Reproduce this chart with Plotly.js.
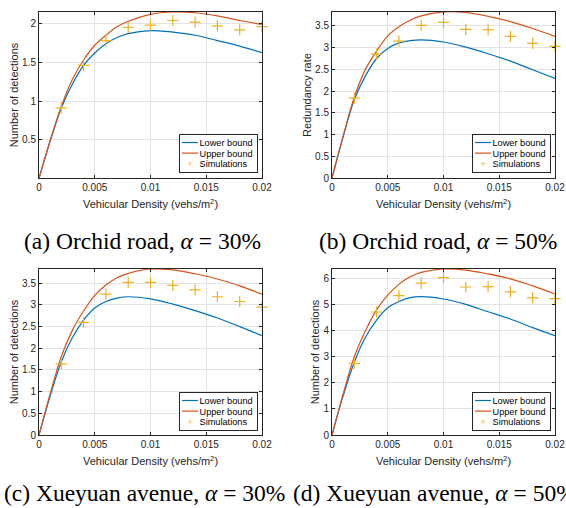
<!DOCTYPE html>
<html><head><meta charset="utf-8">
<script src="https://cdn.plot.ly/plotly-3.0.1.min.js"></script>
<style>html,body{margin:0;padding:0;background:#fff;overflow:hidden}#chart{width:566px;height:508px}</style>
</head><body><div id="chart"></div>
<script>
// ---- data ----
const densityCurve = [0, 0.001, 0.002, 0.003, 0.004, 0.005, 0.006, 0.007, 0.008, 0.010, 0.012, 0.014, 0.016, 0.018, 0.020];
const densitySim = [0.002, 0.004, 0.006, 0.008, 0.010, 0.012, 0.014, 0.016, 0.018, 0.020];

const lowerA = [0, 0.48, 0.91, 1.22, 1.46, 1.62, 1.74, 1.82, 1.87, 1.91, 1.89, 1.85, 1.78, 1.71, 1.625];
const upperA = [0, 0.49, 0.93, 1.28, 1.53, 1.72, 1.85, 1.96, 2.03, 2.12, 2.15, 2.14, 2.10, 2.04, 1.99];
const simA   = [0.91, 1.46, 1.78, 1.95, 1.98, 2.04, 2.02, 1.97, 1.92, 1.96];

const lowerB = [0, 0.95, 1.80, 2.35, 2.75, 2.98, 3.11, 3.16, 3.18, 3.13, 3.01, 2.86, 2.69, 2.49, 2.29];
const upperB = [0, 0.97, 1.86, 2.50, 2.92, 3.27, 3.48, 3.63, 3.73, 3.82, 3.81, 3.72, 3.60, 3.44, 3.26];
const simB   = [1.84, 2.85, 3.15, 3.51, 3.58, 3.42, 3.41, 3.26, 3.10, 3.03];

const lowerC = [0, 0.90, 1.69, 2.25, 2.65, 2.93, 3.08, 3.16, 3.19, 3.14, 3.02, 2.87, 2.70, 2.50, 2.29];
const upperC = [0, 0.95, 1.81, 2.42, 2.86, 3.22, 3.46, 3.63, 3.73, 3.83, 3.81, 3.72, 3.60, 3.44, 3.25];
const simC   = [1.64, 2.60, 3.25, 3.52, 3.52, 3.45, 3.35, 3.19, 3.08, 2.95];

const lowerD = [0, 1.50, 2.79, 3.75, 4.41, 4.88, 5.12, 5.27, 5.31, 5.22, 5.01, 4.73, 4.45, 4.12, 3.81];
const upperD = [0, 1.58, 3.00, 4.00, 4.80, 5.37, 5.78, 6.07, 6.24, 6.37, 6.33, 6.18, 5.99, 5.72, 5.41];
const simD   = [2.75, 4.72, 5.35, 5.83, 6.04, 5.68, 5.69, 5.49, 5.26, 5.23];

const seriesNames = ['Lower bound', 'Upper bound', 'Simulations'];
const xTickVals = [0, 0.005, 0.01, 0.015, 0.02];
const xTickText = ['0', '0.005', '0.01', '0.015', '0.02'];
const xTitle = 'Vehicular Density (vehs/m<sup>2</sup>)';
const yTitles = ['Number of detections', 'Redundancy rate', 'Number of detections', 'Number of detections'];
const captions = ['(a) Orchid road, <i>α</i> = 30%', '(b) Orchid road, <i>α</i> = 50%',
                  '(c) Xueyuan avenue, <i>α</i> = 30%', '(d) Xueyuan avenue, <i>α</i> = 50%'];

// ---- styling ----
const C_LOW = '#0072BD', C_UP = '#D95319', C_SIM = '#EDB120', AX = '#262626';
const panels = [
  {lo: lowerA, up: upperA, sim: simA, yr: [0.005, 2.15], dt: 0.5, xd: [39/566, 262/566], yd: [1-178/508, 1-12/508], lg: [258/566, 1-173/508]},
  {lo: lowerB, up: upperB, sim: simB, yr: [0, 3.82], dt: 0.5, xd: [332/566, 555/566], yd: [1-178/508, 1-12/508], lg: [551/566, 1-173/508]},
  {lo: lowerC, up: upperC, sim: simC, yr: [0, 3.83], dt: 0.5, xd: [39/566, 262/566], yd: [1-435/508, 1-269/508], lg: [258/566, 1-431/508]},
  {lo: lowerD, up: upperD, sim: simD, yr: [0, 6.37], dt: 1, xd: [332/566, 555/566], yd: [1-435/508, 1-269/508], lg: [551/566, 1-431/508]}
];

const data = [];
const layout = {
  width: 566, height: 508, margin: {l: 0, r: 0, t: 0, b: 0},
  paper_bgcolor: '#fff', plot_bgcolor: '#fff',
  font: {family: '"Liberation Sans", Arial, sans-serif', size: 10, color: AX},
  annotations: []
};
const capY = [1-241/508, 1-241/508, 1-493/508, 1-493/508];
const capX = [142/566, 437.5/566, 144.5/566, 434.5/566];

panels.forEach((p, i) => {
  const n = i + 1;
  const xa = n === 1 ? 'x' : 'x' + n, ya = n === 1 ? 'y' : 'y' + n;
  const lgName = n === 1 ? 'legend' : 'legend' + n;
  data.push({x: densityCurve, y: p.lo, xaxis: xa, yaxis: ya, mode: 'lines', name: seriesNames[0], legend: lgName,
             line: {color: C_LOW, width: 1.2, shape: 'spline', smoothing: 1}});
  data.push({x: densityCurve, y: p.up, xaxis: xa, yaxis: ya, mode: 'lines', name: seriesNames[1], legend: lgName,
             line: {color: C_UP, width: 1.2, shape: 'spline', smoothing: 1}});
  data.push({x: densitySim, y: p.sim, xaxis: xa, yaxis: ya, mode: 'markers', name: seriesNames[2], legend: lgName,
             cliponaxis: false,
             marker: {symbol: 'cross-thin', size: 8, color: C_SIM, line: {color: C_SIM, width: 1.2}}});
  const common = {showline: true, linecolor: AX, linewidth: 1, mirror: 'ticks', ticks: 'inside', ticklen: 3,
                  tickcolor: AX, showgrid: true, gridcolor: '#e3e3e3', gridwidth: 1, zeroline: false,
                  tickfont: {size: 10, color: AX}, automargin: false, fixedrange: true};
  layout['xaxis' + (n === 1 ? '' : n)] = Object.assign({}, common, {
    domain: p.xd, anchor: ya, range: [0, 0.02], tickmode: 'array', tickvals: xTickVals, ticktext: xTickText,
    title: {text: xTitle, font: {size: 11, color: AX}, standoff: 8}
  });
  layout['yaxis' + (n === 1 ? '' : n)] = Object.assign({}, common, {
    domain: p.yd, anchor: xa, range: p.yr, dtick: p.dt, tick0: 0,
    title: {text: yTitles[i], font: {size: 11, color: AX}, standoff: 1}
  });
  layout[lgName] = {x: p.lg[0], y: p.lg[1], xanchor: 'right', yanchor: 'bottom', xref: 'paper', yref: 'paper',
                    bgcolor: '#fff', bordercolor: AX, borderwidth: 1, font: {size: 9.2, color: '#000'},
                    tracegroupgap: 0, itemwidth: 30};
  layout.annotations.push({text: captions[i], xref: 'paper', yref: 'paper', x: capX[i], y: capY[i],
                           xanchor: 'center', yanchor: 'middle', showarrow: false,
                           font: {family: '"Liberation Serif", "Times New Roman", serif', size: 23.5, color: '#000'}});
});

// Compact the legends after drawing (MATLAB-style tight entries with short samples). Idempotent.
function compactLegends(gd) {
  const groups = gd.querySelectorAll('.infolayer > g');
  groups.forEach(L => {
    const cls = L.getAttribute('class') || '';
    if (!/^legend\d*$/.test(cls)) return;
    const m = /translate\(([-\d.]+)[ ,]+([-\d.]+)\)/.exec(L.getAttribute('transform') || '');
    if (!m) return;
    const tx = parseFloat(m[1]), ty = parseFloat(m[2]);
    const bg = L.querySelector('rect.bg');
    if (!bg) return;
    const W = parseFloat(bg.getAttribute('width')), H = parseFloat(bg.getAttribute('height'));
    const rowGap = 10.6, firstRow = 8.3, textX = 20.5;
    const traces = L.querySelectorAll('g.traces');
    let maxText = 0;
    traces.forEach((t, k) => {
      t.setAttribute('transform', `translate(0,${firstRow + k * rowGap})`);
      t.querySelectorAll('.legendlines path').forEach(p => p.setAttribute('d', 'M3,0h16'));
      t.querySelectorAll('.legendpoints path').forEach(p => p.setAttribute('transform', 'translate(11,0) scale(0.45)'));
      t.querySelectorAll('text').forEach(txt => {
        txt.setAttribute('x', textX);
        let w = 0;
        try { w = txt.getComputedTextLength(); } catch (e) {}
        if (!w) w = (txt.textContent || '').length * 5.1;
        maxText = Math.max(maxText, w);
      });
    });
    if (!maxText) maxText = 56;
    const newW = Math.round(textX + maxText + 4), newH = firstRow * 2 + (traces.length - 1) * rowGap;
    bg.setAttribute('width', newW); bg.setAttribute('height', newH);
    const sb = L.querySelector('.scrollbox');
    if (sb) sb.removeAttribute('clip-path');
    L.setAttribute('transform', `translate(${tx + W - newW},${ty + H - newH})`);
  });
}

const gdEl = document.getElementById('chart');
Plotly.newPlot(gdEl, data, layout, {staticPlot: true, displayModeBar: false}).then(gd => {
  compactLegends(gd);
  requestAnimationFrame(() => compactLegends(gd));
  setTimeout(() => compactLegends(gd), 20);
  setTimeout(() => compactLegends(gd), 150);
});
</script></body></html>
